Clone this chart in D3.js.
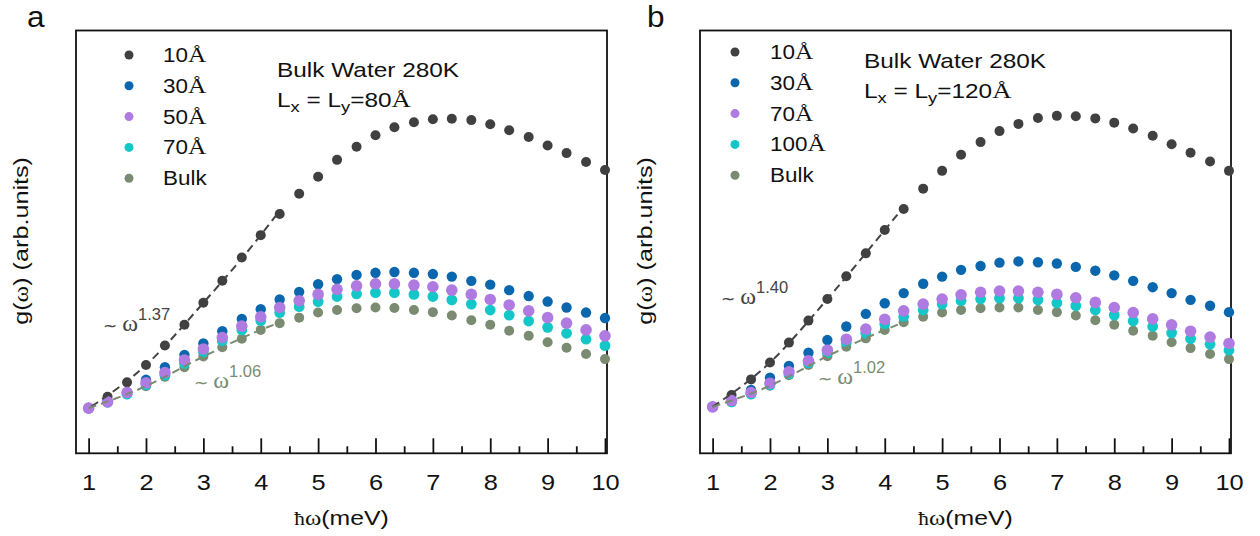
<!DOCTYPE html>
<html>
<head>
<meta charset="utf-8">
<script src="https://cdn.jsdelivr.net/npm/d3@7"></script>
<style>
  body { margin: 0; background: #fff; }
  text { font-family: "Liberation Sans", Arial, sans-serif; }
</style>
</head>
<body>
<div id="chart"></div>
<script>
// photon energy grid (meV), shared by every series
const energy = [1.00, 1.33, 1.67, 2.00, 2.33, 2.67, 3.00, 3.33, 3.67, 4.00, 4.33, 4.67, 5.00, 5.33,
                5.67, 6.00, 6.33, 6.67, 7.00, 7.33, 7.67, 8.00, 8.33, 8.67, 9.00, 9.33, 9.67, 10.00];

// panel a : Lx = Ly = 80 Å
const a10   = [10.6, 13.3, 16.7, 20.8, 25.4, 30.3, 35.5, 40.7, 46.2, 51.5, 56.5, 61.3, 65.3, 69.3,
               72.4, 75.1, 77.0, 78.2, 78.9, 79.0, 78.7, 77.7, 76.3, 74.7, 72.7, 70.9, 68.8, 66.9];
const a30   = [10.6, 12.1, 14.4, 17.3, 20.3, 23.2, 25.9, 28.8, 31.7, 34.0, 36.3, 38.1, 39.9, 41.1,
               42.1, 42.6, 42.8, 42.6, 42.3, 41.7, 40.7, 39.8, 38.5, 37.1, 35.8, 34.4, 33.2, 31.9];
const a50   = [10.6, 12.1, 14.3, 16.6, 19.0, 22.0, 24.6, 27.3, 30.0, 32.2, 34.4, 36.0, 37.5, 38.7,
               39.5, 40.0, 40.0, 39.7, 39.3, 38.5, 37.5, 36.3, 35.0, 33.6, 32.0, 30.7, 29.1, 27.7];
const a70   = [10.6, 12.0, 13.9, 16.1, 18.4, 21.2, 23.9, 26.5, 29.1, 31.3, 33.2, 34.6, 35.8, 37.0,
               37.6, 37.9, 37.9, 37.5, 37.0, 36.2, 35.2, 33.8, 32.6, 31.2, 29.7, 28.3, 26.9, 25.4];
const aBulk = [10.6, 12.0, 13.9, 15.8, 18.0, 20.3, 22.8, 25.0, 27.0, 29.1, 30.7, 32.0, 33.2, 33.8,
               34.2, 34.4, 34.3, 33.8, 33.3, 32.5, 31.4, 30.3, 28.9, 27.7, 26.2, 24.9, 23.4, 22.2];

// panel b : Lx = Ly = 120 Å
const b10   = [10.9, 13.7, 17.4, 21.4, 26.1, 31.3, 36.4, 41.8, 47.2, 52.7, 57.7, 62.5, 66.7, 70.5,
               73.5, 76.1, 77.8, 79.2, 79.7, 79.6, 79.1, 78.1, 76.7, 75.0, 73.0, 71.0, 68.9, 66.7];
const b30   = [10.9, 12.5, 14.9, 17.8, 20.6, 23.7, 26.7, 29.9, 32.9, 35.4, 37.8, 40.0, 41.7, 43.3,
               44.2, 45.0, 45.3, 45.1, 44.8, 44.0, 43.1, 42.0, 40.7, 39.2, 37.8, 36.2, 34.8, 33.3];
const b70   = [10.9, 12.4, 14.3, 16.5, 19.2, 21.8, 24.3, 26.9, 29.3, 31.6, 33.6, 35.2, 36.4, 37.4,
               38.0, 38.3, 38.3, 38.0, 37.5, 36.7, 35.6, 34.4, 33.2, 31.7, 30.3, 28.8, 27.4, 25.9];
const b100  = [10.9, 12.1, 13.9, 16.1, 18.7, 21.3, 23.7, 26.1, 28.3, 30.5, 32.2, 33.8, 35.2, 36.0,
               36.4, 36.6, 36.6, 36.2, 35.5, 34.8, 33.8, 32.6, 31.2, 29.9, 28.4, 27.0, 25.7, 24.3];
const bBulk = [10.9, 12.0, 13.9, 15.9, 18.4, 20.8, 22.9, 25.1, 27.1, 29.1, 30.9, 32.2, 33.2, 33.8,
               34.2, 34.4, 34.4, 33.8, 33.3, 32.5, 31.4, 30.3, 28.9, 27.7, 26.2, 24.8, 23.4, 22.2];

// dashed power-law guides as [energy, g]
const aFit10   = [[1.05, 11.0], [2, 20.8], [3, 35.5], [4, 51.5], [4.36, 57.8]];
const aFitBulk = [[1.0, 10.6], [2, 15.8], [3, 22.8], [4, 29.1], [4.36, 31.0]];
const bFit10   = [[1.0, 10.9], [2, 21.4], [3, 36.4], [4, 52.7], [4.35, 58.5]];
const bFitBulk = [[1.0, 10.9], [2, 15.9], [3, 22.9], [4, 29.1], [4.35, 31.0]];

const majorTicks = [1, 2, 3, 4, 5, 6, 7, 8, 9, 10];
const minorTicks = [1.5, 2.5, 3.5, 4.5, 5.5, 6.5, 7.5, 8.5, 9.5];

const colors = { c10: "#404040", c30: "#0a67ad", purple: "#b07be0", cyan: "#13c7c9", bulk: "#7b8b71" };
const SERIF = "Liberation Serif, serif";

const svg = d3.select("#chart").append("svg")
    .attr("width", 1260)
    .attr("height", 536);

// the source type is set a bit wide, so most labels get a horizontal stretch
function label(g, x, y, size, sx, anchor) {
    return g.append("text")
        .attr("transform", `translate(${x},${y}) scale(${sx},1)`)
        .attr("font-size", size)
        .attr("text-anchor", anchor || "start")
        .attr("fill", "#111");
}

function drawPanel(p) {
    const w = 531, top = 30.5, bottom = 453.3;
    const g = svg.append("g").attr("transform", `translate(${p.left},0)`);

    const x = d3.scaleLinear().domain([0.78, 10.035]).range([0, w]);
    const y = d3.scaleLinear().domain([0, 100]).range([453, 30]);

    // frame
    g.append("rect")
        .attr("x", 0).attr("y", top)
        .attr("width", w).attr("height", bottom - top)
        .attr("fill", "none").attr("stroke", "#111").attr("stroke-width", 1.8);

    // inward ticks on the bottom edge
    const ax = g.append("g")
        .attr("transform", `translate(0,${bottom})`)
        .call(d3.axisBottom(x).tickValues(majorTicks).tickSizeInner(-15).tickSizeOuter(0).tickPadding(21));
    ax.select(".domain").remove();
    ax.selectAll(".tick line").attr("stroke", "#111").attr("stroke-width", 1.8);
    ax.selectAll(".tick text")
        .attr("font-size", 21.5)
        .attr("font-family", "Liberation Sans, Arial, sans-serif")
        .attr("fill", "#111")
        .attr("transform", "scale(1.18,1)");

    const axm = g.append("g")
        .attr("transform", `translate(0,${bottom})`)
        .call(d3.axisBottom(x).tickValues(minorTicks).tickSizeInner(-7).tickSizeOuter(0).tickFormat(""));
    axm.select(".domain").remove();
    axm.selectAll(".tick line").attr("stroke", "#111").attr("stroke-width", 1.8);

    // axis titles
    const xl = label(g, w / 2, 525, 21, 1.18, "middle");
    xl.append("tspan").attr("font-size", 18).attr("font-family", SERIF).text("ħ");
    xl.append("tspan").attr("font-family", SERIF).text("ω");
    xl.append("tspan").text("(meV)");

    const yl = g.append("text")
        .attr("transform", `translate(${-48},${(top + bottom) / 2 - 1}) rotate(-90) scale(1.2,1)`)
        .attr("text-anchor", "middle")
        .attr("font-size", 21)
        .attr("fill", "#111");
    yl.append("tspan").text("g(");
    yl.append("tspan").attr("font-family", SERIF).text("ω");
    yl.append("tspan").text(") (arb.units)");

    // panel letter
    label(svg, p.letterX, 27, 30, 1.05, "start").text(p.letter);

    // data dots (back to front)
    p.series.forEach(s => {
        g.append("g").selectAll("circle")
            .data(s.values.map((v, i) => [energy[i], v]))
            .join("circle")
            .attr("cx", d => x(d[0]))
            .attr("cy", d => y(d[1]))
            .attr("r", s.r)
            .attr("fill", s.color);
    });

    // dashed guides and their exponents
    const line = d3.line().x(d => x(d[0])).y(d => y(d[1])).curve(d3.curveMonotoneX);
    p.fits.forEach(f => {
        g.append("path")
            .datum(f.points)
            .attr("d", line)
            .attr("fill", "none")
            .attr("stroke", f.color)
            .attr("stroke-width", 2)
            .attr("stroke-dasharray", "8,5");

        const t = label(g, f.lx, f.ly, 18, 1, "start").attr("fill", f.color);
        t.append("tspan").attr("font-family", "DejaVu Sans, sans-serif").attr("font-size", 17).attr("dy", 1).text("~");
        t.append("tspan").attr("dy", -1).text(" ");
        t.append("tspan").attr("font-family", SERIF).attr("font-size", 24).text("ω");
        t.append("tspan").attr("font-size", 16.5).attr("dy", -11).text(f.exp);
    });

    // legend
    p.legend.forEach((d, i) => {
        const yy = p.legY + i * 30.8;
        g.append("circle").attr("cx", p.legDot).attr("cy", yy).attr("r", 4.5).attr("fill", d.color);
        const t = label(g, p.legText, yy + 7, 19.5, 1.15, "start");
        const m = d.name.match(/^(\d+)(Å)$/);
        if (m) {
            t.append("tspan").text(m[1]);
            t.append("tspan").attr("font-family", SERIF).attr("font-size", 22).text(m[2]);
        } else {
            t.text(d.name);
        }
    });

    // annotation
    label(g, p.noteX, p.noteY, 20, 1.22, "start").text("Bulk Water 280K");
    const n2 = label(g, p.noteX, p.noteY + 30, 20, 1.22, "start");
    n2.append("tspan").text("L");
    n2.append("tspan").attr("font-size", 15).attr("dy", 5).text("x");
    n2.append("tspan").attr("dy", -5).text(" = L");
    n2.append("tspan").attr("font-size", 15).attr("dy", 5).text("y");
    n2.append("tspan").attr("dy", -5).text("=" + p.box);
    n2.append("tspan").attr("font-family", SERIF).attr("font-size", 22).text("Å");
}

drawPanel({
    left: 76, letter: "a", letterX: 27, box: "80",
    series: [
        { values: a10,   color: colors.c10,    r: 5 },
        { values: aBulk, color: colors.bulk,   r: 5 },
        { values: a70,   color: colors.cyan,   r: 5.4 },
        { values: a30,   color: colors.c30,    r: 5.2 },
        { values: a50,   color: colors.purple, r: 5.8 }
    ],
    fits: [
        { points: aFit10,   color: "#444", exp: "1.37", lx: 27, ly: 331 },
        { points: aFitBulk, color: "#7b8b71", exp: "1.06", lx: 118, ly: 388 }
    ],
    legend: [
        { name: "10Å", color: colors.c10 },
        { name: "30Å", color: colors.c30 },
        { name: "50Å", color: colors.purple },
        { name: "70Å", color: colors.cyan },
        { name: "Bulk", color: colors.bulk }
    ],
    legY: 55, legDot: 53, legText: 87,
    noteX: 201, noteY: 77
});

drawPanel({
    left: 700, letter: "b", letterX: 647, box: "120",
    series: [
        { values: b10,   color: colors.c10,    r: 5 },
        { values: bBulk, color: colors.bulk,   r: 5 },
        { values: b100,  color: colors.cyan,   r: 5.4 },
        { values: b30,   color: colors.c30,    r: 5.2 },
        { values: b70,   color: colors.purple, r: 5.8 }
    ],
    fits: [
        { points: bFit10,   color: "#444", exp: "1.40", lx: 21, ly: 304 },
        { points: bFitBulk, color: "#7b8b71", exp: "1.02", lx: 118, ly: 384 }
    ],
    legend: [
        { name: "10Å", color: colors.c10 },
        { name: "30Å", color: colors.c30 },
        { name: "70Å", color: colors.purple },
        { name: "100Å", color: colors.cyan },
        { name: "Bulk", color: colors.bulk }
    ],
    legY: 52, legDot: 35, legText: 70,
    noteX: 164, noteY: 68
});
</script>
</body>
</html>
